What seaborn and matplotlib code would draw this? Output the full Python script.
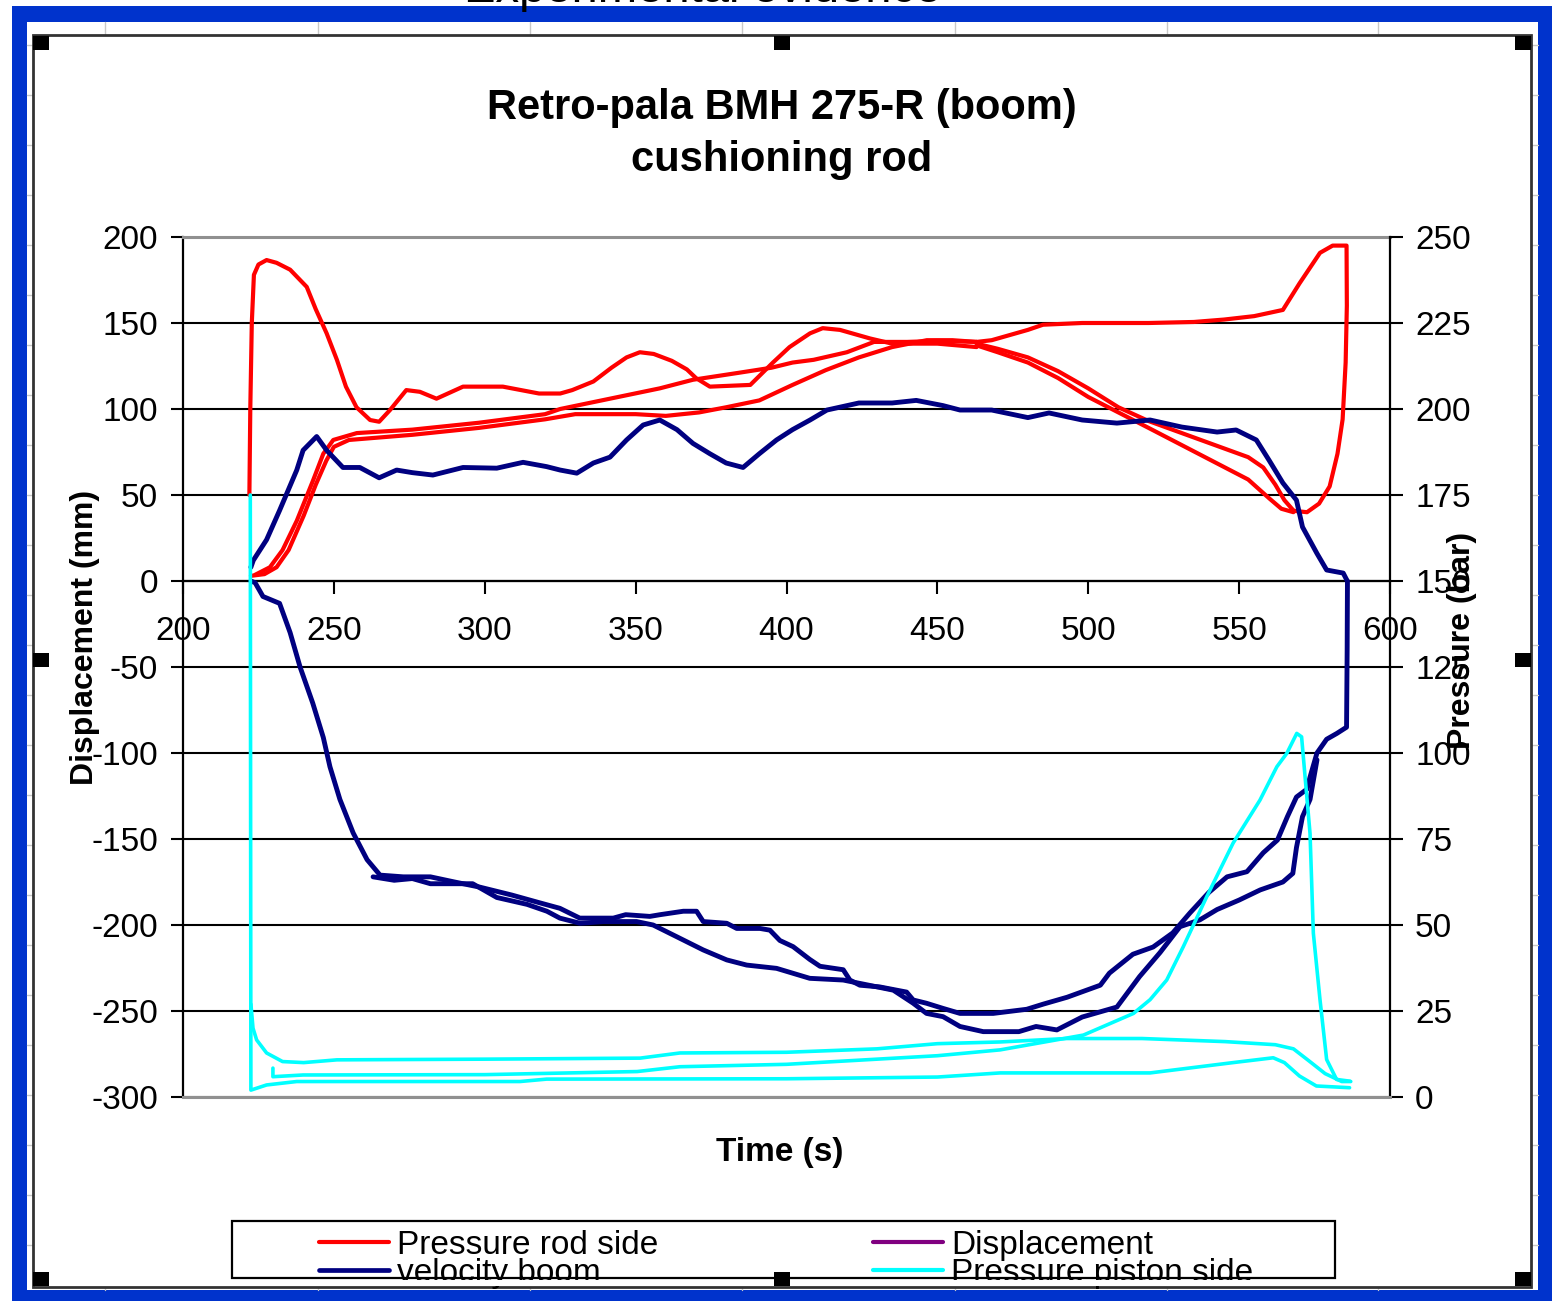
import numpy as np
import pandas as pd
import matplotlib
matplotlib.use("Agg")
import matplotlib.pyplot as plt
from matplotlib.patches import Rectangle
from matplotlib.lines import Line2D
import seaborn as sns

# ---------------- data (x = time in s) ----------------
# Pressure rod side (bar, right axis) - several traced strokes
red_hump_t = [222.0, 222.3, 222.8, 223.5, 225.0, 227.7, 231.0, 235.5, 241.0, 244.0, 247.6, 251.0, 254.0, 257.5,
              262.0, 265.0, 268.6, 274.0, 278.5, 284.0, 292.8, 306.0, 318.0, 325.0, 329.0, 336.0, 342.0, 347.0,
              351.4, 356.0, 362.0, 367.0, 370.0, 374.6, 388.0, 395.5, 401.0, 407.8, 412.0, 417.7, 427.7, 435.0,
              450.0, 463.0]
red_hump_p = [175.0, 200.0, 225.0, 239.0, 242.0, 243.3, 242.5, 240.5, 235.5, 229.0, 222.0, 214.3, 206.5, 200.5,
              196.8, 196.3, 199.7, 205.5, 205.0, 203.0, 206.5, 206.5, 204.5, 204.5, 205.5, 208.0, 212.0, 215.0,
              216.5, 216.0, 214.0, 211.5, 209.0, 206.5, 207.0, 213.5, 218.0, 222.0, 223.5, 223.0, 220.5, 219.0,
              219.0, 218.0]
red_rise1_t = [223.9, 228.8, 233.0, 237.7, 243.0, 246.5, 249.8, 257.6, 276.0, 298.0, 320.0, 325.0, 336.0, 347.0,
               358.0, 369.0, 384.0, 395.0, 402.0, 409.0, 420.0, 429.0, 440.0, 450.0, 463.0]
red_rise1_p = [151.8, 154.0, 159.0, 167.5, 179.0, 187.0, 191.0, 193.0, 194.0, 196.0, 198.5, 200.0, 202.0, 204.0,
               206.0, 208.5, 210.5, 212.0, 213.5, 214.3, 216.5, 219.5, 219.5, 219.8, 219.5]
red_rise2_t = [222.5, 227.0, 231.0, 235.0, 240.0, 244.0, 247.5, 250.0, 255.0, 276.0, 298.0, 320.0, 330.0, 350.0,
               360.0, 371.0, 380.0, 391.0, 402.0, 413.0, 424.0, 435.0, 446.5, 455.0, 463.0]
red_rise2_p = [151.5, 152.0, 154.0, 159.0, 169.0, 178.0, 185.0, 189.0, 191.0, 192.5, 194.5, 197.0, 198.5, 198.5,
               198.0, 199.0, 200.5, 202.5, 207.0, 211.3, 215.0, 218.0, 220.0, 220.0, 219.5]
red_top_t = [463.0, 468.0, 474.0, 480.0, 485.0, 498.0, 520.0, 535.0, 545.0, 555.0, 564.5, 570.0, 576.8, 581.0,
             585.6, 585.7, 585.3, 584.3, 582.6, 580.0, 576.5, 572.5, 567.0]
red_top_p = [219.5, 220.0, 221.5, 223.0, 224.5, 225.0, 225.0, 225.3, 226.0, 227.0, 228.8, 236.5, 245.4, 247.5,
             247.5, 230.0, 213.5, 197.0, 187.0, 177.5, 172.5, 170.0, 170.5]
red_fall1_t = [463.0, 470.0, 480.0, 490.0, 500.0, 510.0, 520.0, 531.0, 542.0, 553.0, 558.0, 562.0, 565.0, 568.0]
red_fall1_p = [219.0, 217.5, 215.0, 211.0, 206.0, 200.5, 196.5, 193.0, 189.5, 186.0, 183.0, 178.0, 173.5, 170.5]
red_fall2_t = [463.0, 470.0, 480.0, 490.0, 500.0, 510.0, 520.0, 531.0, 542.0, 553.0, 560.0, 564.0, 568.0]
red_fall2_p = [218.5, 216.5, 213.5, 209.0, 203.5, 199.0, 194.5, 189.5, 184.5, 179.5, 174.0, 171.0, 170.0]

# velocity boom (mm, left axis)
navy_up_t = [222.5, 223.3, 227.7, 232.0, 237.7, 239.8, 244.3, 247.6, 253.0, 258.6, 265.0, 270.8, 276.0, 282.8,
             292.8, 304.0, 312.7, 320.5, 325.0, 330.5, 336.0, 341.5, 347.0, 352.5, 358.0, 363.7, 369.0, 374.6,
             380.0, 385.6, 391.0, 396.7, 402.0, 407.8, 413.4, 424.0, 435.0, 443.0, 451.8, 457.5, 468.0, 480.0,
             487.0, 498.0, 509.5, 520.5, 531.0, 542.7, 549.0, 555.7, 560.0, 564.5, 569.0, 571.0, 575.8, 579.0,
             584.5, 585.7]
navy_up_v = [8.0, 12.0, 24.0, 41.0, 64.5, 76.0, 84.0, 76.0, 66.0, 66.0, 60.0, 64.5, 63.0, 61.6,
             66.0, 65.6, 69.0, 66.5, 64.5, 62.7, 68.6, 72.0, 82.0, 90.7, 93.6, 88.0, 80.0, 74.0,
             68.6, 66.0, 74.0, 82.0, 88.0, 93.6, 99.4, 103.5, 103.5, 105.0, 102.0, 99.4, 99.4, 95.0,
             97.7, 93.6, 91.8, 93.6, 89.5, 86.6, 87.8, 82.0, 70.0, 57.0, 47.0, 31.4, 16.0, 6.4,
             4.6, 0.5]
navy_loop1_t = [222.5, 223.9, 226.5, 232.0, 235.5, 238.8, 243.0, 246.5, 248.7, 252.0, 256.4, 261.0, 265.3, 273.0,
                282.0, 290.0, 298.4, 309.0, 318.0, 324.9, 331.5, 342.6, 346.7, 354.7, 358.1, 365.8, 370.2, 372.4,
                380.2, 383.5, 391.2, 394.5, 397.8, 402.2, 407.7, 411.1, 418.8, 421.0, 424.3, 430.9, 439.8, 442.0,
                446.4, 451.9, 457.5, 468.5, 479.6, 485.1, 493.0, 504.0, 507.0, 514.8, 521.5, 528.0, 533.7, 540.0,
                546.0, 552.6, 558.0, 562.7, 566.0, 569.0, 572.5, 573.5, 575.8, 579.0, 582.4, 585.6, 585.8, 585.9]
navy_loop1_v = [0.0, -1.0, -9.0, -13.0, -30.0, -50.0, -71.0, -91.0, -108.0, -127.0, -146.5, -162.0, -171.0, -172.0,
                -172.0, -175.0, -178.0, -182.6, -187.0, -190.3, -196.0, -196.0, -194.0, -195.0, -194.0, -192.0, -192.0, -198.0,
                -199.0, -202.0, -202.0, -203.0, -209.0, -212.6, -220.0, -224.0, -226.0, -232.0, -235.0, -236.0, -239.0, -243.6,
                -245.5, -248.5, -251.4, -251.4, -249.0, -246.0, -242.0, -235.0, -228.0, -217.0, -212.8, -204.6, -193.0, -181.0,
                -172.0, -169.0, -158.0, -150.6, -137.0, -125.6, -121.0, -114.0, -100.0, -92.0, -88.6, -85.0, -40.0, 0.0]
navy_loop2_t = [263.0, 270.0, 276.0, 282.0, 296.0, 304.0, 314.0, 320.6, 324.9, 331.6, 339.3, 350.3, 355.8, 363.6,
                372.4, 380.2, 386.8, 396.7, 407.7, 418.8, 429.8, 435.4, 442.0, 446.4, 451.9, 457.5, 465.2, 477.0,
                482.7, 489.6, 498.0, 509.5, 517.0, 523.8, 530.4, 537.0, 542.7, 550.0, 557.0, 564.5, 567.8, 569.0,
                571.0, 573.5, 575.8]
navy_loop2_v = [-172.0, -174.0, -173.0, -176.0, -176.0, -184.0, -188.0, -192.0, -196.0, -199.0, -198.0, -198.0, -200.0, -206.8,
                -214.5, -220.3, -223.3, -225.2, -231.0, -232.0, -235.9, -237.9, -245.5, -251.4, -253.3, -259.0, -262.0, -262.0,
                -259.0, -261.0, -253.5, -247.7, -230.0, -216.0, -201.0, -197.0, -191.0, -185.5, -179.6, -175.0, -170.0, -155.0,
                -137.0, -127.0, -104.0]

# Pressure piston side (bar, right axis)
cyan_low_t = [222.3, 222.4, 222.5, 227.7, 237.7, 311.7, 320.5, 400.0, 450.0, 470.8, 520.5, 548.0, 561.3, 565.0,
              570.0, 575.6, 586.6]
cyan_low_p = [175.0, 90.0, 2.0, 3.5, 4.5, 4.5, 5.2, 5.3, 5.8, 7.0, 7.0, 10.0, 11.4, 10.0,
              6.1, 3.2, 2.7]
cyan_high_t = [222.5, 223.2, 224.4, 227.7, 233.0, 240.0, 251.0, 300.0, 351.5, 364.7, 400.0, 430.0, 450.0, 470.8,
               492.9, 517.8, 545.4, 562.0, 568.0, 573.0, 578.5, 584.0, 587.0]
cyan_high_p = [27.0, 20.0, 16.6, 12.8, 10.3, 10.0, 10.8, 11.0, 11.3, 12.8, 13.0, 14.0, 15.5, 16.0,
               17.0, 17.0, 16.1, 15.2, 14.0, 10.6, 6.8, 4.5, 4.5]
cyan_peak_t = [229.8, 229.8, 239.8, 300.0, 350.5, 364.7, 400.0, 450.0, 470.8, 498.4, 515.0, 520.5, 526.0, 531.5,
               539.3, 548.0, 556.9, 562.5, 565.8, 569.1, 570.7, 573.5, 574.6, 576.8, 579.0, 582.3, 586.7]
cyan_peak_p = [8.4, 5.9, 6.4, 6.5, 7.4, 8.8, 9.5, 12.0, 13.7, 18.0, 24.3, 28.3, 34.0, 43.7,
               58.3, 73.8, 86.3, 96.0, 99.9, 105.7, 104.7, 76.6, 47.6, 28.3, 10.9, 5.1, 4.6]

series_names = ["Pressure rod side", "velocity boom", "Displacement", "Pressure piston side"]
x_ticks = list(range(200, 601, 50))
left_ticks = list(range(-300, 201, 50))
right_ticks = list(range(0, 251, 25))


def frame(*pairs):
    parts = []
    for i, (t, v) in enumerate(pairs):
        parts.append(pd.DataFrame({"t": t, "v": v, "seg": i}))
    return pd.concat(parts, ignore_index=True)


red_df = frame((red_hump_t, red_hump_p), (red_rise1_t, red_rise1_p), (red_rise2_t, red_rise2_p),
               (red_top_t, red_top_p), (red_fall1_t, red_fall1_p), (red_fall2_t, red_fall2_p))
navy_df = frame((navy_up_t, navy_up_v), (navy_loop1_t, navy_loop1_v), (navy_loop2_t, navy_loop2_v))
cyan_df = frame((cyan_low_t, cyan_low_p), (cyan_high_t, cyan_high_p), (cyan_peak_t, cyan_peak_p))

RED, NAVY, PURPLE, CYAN = "#ff0000", "#000080", "#800080", "#00ffff"

# ---------------- figure ----------------
sns.set_style("white")
plt.rcParams["font.family"] = ["Liberation Sans", "DejaVu Sans"]
plt.rcParams["text.color"] = "black"
plt.rcParams["axes.labelcolor"] = "black"
plt.rcParams["xtick.color"] = "black"
plt.rcParams["ytick.color"] = "black"

W, H = 1552, 1301
fig = plt.figure(figsize=(W / 100, H / 100), dpi=100)


def fx(px):
    return px / W


def fy(py):
    return 1 - py / H


def rect(x0, y0, x1, y1, **kw):
    r = Rectangle((fx(x0), fy(y1)), (x1 - x0) / W, (y1 - y0) / H, transform=fig.transFigure, **kw)
    fig.add_artist(r)
    return r


def fline(x0, y0, x1, y1, **kw):
    fig.add_artist(Line2D([fx(x0), fx(x1)], [fy(y0), fy(y1)], transform=fig.transFigure, **kw))


# worksheet background and blue frame
rect(12, 6, W, H, facecolor="#0033cc", edgecolor="none", zorder=-10)
rect(27, 22, 1538, 1290, facecolor="white", edgecolor="none", zorder=-9)
for x in [105, 318, 530, 742, 955, 1167, 1378]:
    fline(x, 22, x, 35, color="#c8c8c8", lw=1, zorder=-8)
    fline(x, 1287, x, 1290, color="#c8c8c8", lw=1, zorder=-8)
for y in range(45, 1290, 50):
    fline(27, y, 33, y, color="#c8c8c8", lw=1, zorder=-8)
    fline(1531, y, 1538, y, color="#c8c8c8", lw=1, zorder=-8)
rect(33, 35, 1531, 1287, facecolor="white", edgecolor="#333333", lw=2, zorder=-7)

# cut-off slide heading
fig.text(fx(703), fy(2.5), "Experimental evidence", ha="center", va="baseline", fontsize=34, color="black")

# axes
pos = [fx(183), fy(1097), (1390 - 183) / W, (1097 - 237) / H]
ax = fig.add_axes(pos)
ax.set_facecolor("none")
axR = ax.twinx()
axN = ax.twinx()
axC = ax.twinx()

ax.set_xlim(200, 600)
ax.set_ylim(-300, 200)
ax.set_xticks(x_ticks)
ax.set_yticks(left_ticks)
ax.set_axisbelow(True)
ax.yaxis.grid(True, color="black", lw=1.5)
ax.xaxis.grid(False)
ax.spines["bottom"].set_position(("data", 0))
ax.spines["bottom"].set_color("black")
ax.spines["bottom"].set_linewidth(1.6)
ax.spines["left"].set_color("black")
ax.spines["left"].set_linewidth(1.6)
ax.spines["top"].set_color("#909090")
ax.spines["top"].set_linewidth(2.2)
ax.spines["right"].set_visible(False)
ax.tick_params(axis="x", direction="out", length=9, width=1.5, pad=16, labelsize=24, colors="black",
               bottom=True)
ax.tick_params(axis="y", direction="out", length=9, width=1.5, pad=9, labelsize=24, colors="black",
               left=True)
ax.set_xticklabels([str(v) for v in x_ticks])
ax.set_yticklabels([str(v) for v in left_ticks])
ax.set_xlabel("")
ax.set_ylabel("")

axR.set_ylim(0, 250)
axR.set_yticks(right_ticks)
axR.set_yticklabels([str(v) for v in right_ticks])
axR.tick_params(axis="y", direction="out", length=9, width=1.5, pad=9, labelsize=24, colors="black",
                right=True)
for s in ["top", "left"]:
    axR.spines[s].set_visible(False)
axR.spines["right"].set_color("black")
axR.spines["right"].set_linewidth(1.6)
axR.spines["bottom"].set_color("#909090")
axR.spines["bottom"].set_linewidth(2.2)
axR.tick_params(axis="x", bottom=False, labelbottom=False)
axR.set_ylabel("")

axN.set_ylim(-300, 200)
axN.set_axis_off()
axC.set_ylim(0, 250)
axC.set_axis_off()

sns.lineplot(data=red_df, x="t", y="v", units="seg", estimator=None, sort=False, color=RED, lw=3.0,
             ax=axR, legend=False)
sns.lineplot(data=navy_df, x="t", y="v", units="seg", estimator=None, sort=False, color=NAVY, lw=3.5,
             ax=axN, legend=False)
sns.lineplot(data=cyan_df, x="t", y="v", units="seg", estimator=None, sort=False, color=CYAN, lw=2.6,
             ax=axC, legend=False)
for a in (axR, axN, axC):
    a.set_xlim(200, 600)
    a.set_xlabel("")
    a.set_ylabel("")
axR.set_ylim(0, 250)
axN.set_ylim(-300, 200)
axC.set_ylim(0, 250)

# titles and axis labels
fig.text(fx(782), fy(108), "Retro-pala BMH 275-R (boom)", ha="center", va="center", fontsize=30,
         fontweight="bold", color="black")
fig.text(fx(782), fy(160), "cushioning rod", ha="center", va="center", fontsize=30, fontweight="bold",
         color="black")
fig.text(fx(780), fy(1153), "Time (s)", ha="center", va="center", fontsize=24, fontweight="bold",
         color="black")
fig.text(fx(85), fy(637), "Displacement (mm)", ha="center", va="center", rotation=90, fontsize=23,
         fontweight="bold", color="black")
fig.text(fx(1462), fy(640), "Pressure (bar)", ha="center", va="center", rotation=90, fontsize=23,
         fontweight="bold", color="black")

# legend (clipped by the chart frame as in the original)
handles = [Line2D([], [], color=RED, lw=3.0), Line2D([], [], color=NAVY, lw=3.4),
           Line2D([], [], color=PURPLE, lw=3.0), Line2D([], [], color=CYAN, lw=3.0)]
leg = fig.legend(handles, series_names, ncol=2, loc="upper left", bbox_to_anchor=(fx(319), fy(1230)),
                 frameon=False, fontsize=24, handlelength=2.1, handletextpad=0.24,
                 columnspacing=6.45, labelspacing=-0.1, borderpad=0, borderaxespad=0)
for txt in leg.get_texts():
    txt.set_color("black")
rect(226, 1279.5, 1345, 1286, facecolor="white", edgecolor="none", zorder=6)
rect(232, 1221, 1335, 1278, facecolor="none", edgecolor="black", lw=1.6, zorder=6)

# selection handles of the chart object
for cx, cy in [(41, 43), (782, 43), (1523, 43), (41, 660), (1523, 660), (41, 1279), (782, 1279), (1523, 1279)]:
    rect(cx - 8, cy - 7, cx + 8, cy + 7, facecolor="black", edgecolor="none", zorder=8)

fig.savefig("out.png", dpi=100)
